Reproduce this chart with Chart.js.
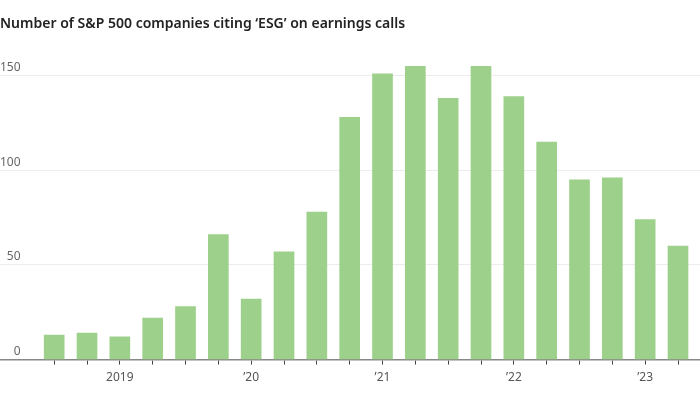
<!DOCTYPE html>
<html>
<head>
<meta charset="utf-8">
<script src="https://cdn.jsdelivr.net/npm/chart.js@4"></script>
<style>
  html, body { margin: 0; padding: 0; background: #fff; }
  #wrap { width: 700px; height: 394px; position: relative; }
</style>
</head>
<body>
<div id="wrap"><canvas id="esgChart" width="700" height="394"></canvas></div>
<script>
// quarterly counts, Q3 2018 .. Q2 2023
const quarters = ['Q3 2018', 'Q4 2018', 'Q1 2019', 'Q2 2019', 'Q3 2019', 'Q4 2019',
  'Q1 2020', 'Q2 2020', 'Q3 2020', 'Q4 2020', 'Q1 2021', 'Q2 2021', 'Q3 2021', 'Q4 2021',
  'Q1 2022', 'Q2 2022', 'Q3 2022', 'Q4 2022', 'Q1 2023', 'Q2 2023'];
const companies = [13, 14, 12, 22, 28, 66, 32, 57, 78, 128, 151, 155, 138, 155, 139, 115, 95, 96, 74, 60];
const xTickLabels = ['', '', '2019', '', '', '', '\u201920', '', '', '', '\u201921', '', '', '',
  '\u201922', '', '', '', '\u201923', ''];
const yTicks = [0, 50, 100, 150];

const fontFamily = '"Noto Sans", "Open Sans", sans-serif';

const ctx = document.getElementById('esgChart').getContext('2d');

new Chart(ctx, {
    type: 'bar',
    data: {
        labels: quarters,
        datasets: [{
            label: 'Companies citing ESG',
            data: companies.map((v, i) => ({ x: i + 1, y: v })),
            backgroundColor: '#9dd08a',
            barThickness: 20,
            borderWidth: 0
        }]
    },
    options: {
        responsive: false,
        animation: false,
        layout: { padding: { left: 0, right: 0, top: 0, bottom: 3 } },
        scales: {
            x: {
                type: 'linear',
                min: -0.65,
                max: 20.67,
                offset: false,
                afterBuildTicks: (scale) => {
                    scale.ticks = quarters.map((q, i) => ({ value: i + 1 }));
                },
                ticks: {
                    autoSkip: false,
                    maxRotation: 0,
                    color: '#555',
                    padding: 6,
                    font: { family: fontFamily, size: 12 },
                    callback: (value) => xTickLabels[value - 1] || ''
                },
                grid: {
                    offset: false,
                    drawOnChartArea: false,
                    drawTicks: true,
                    tickLength: 5,
                    color: '#444'
                },
                border: { color: '#888', width: 1.5 }
            },
            y: {
                min: 0,
                max: 160,
                afterBuildTicks: (scale) => {
                    scale.ticks = yTicks.map(v => ({ value: v }));
                },
                ticks: {
                    mirror: true,
                    crossAlign: 'far',
                    padding: 0,
                    labelOffset: -8,
                    color: '#666',
                    font: { family: fontFamily, size: 12 }
                },
                grid: {
                    drawTicks: false,
                    color: (c) => c.tick && c.tick.value === 0 ? 'rgba(0,0,0,0)' : '#ececec',
                    lineWidth: 1
                },
                border: { display: false }
            }
        },
        plugins: {
            legend: { display: false },
            tooltip: { enabled: false },
            title: {
                display: true,
                text: 'Number of S&P 500 companies citing \u2018ESG\u2019 on earnings calls',
                align: 'start',
                color: '#222',
                font: { family: fontFamily, size: 14, weight: '600' },
                padding: { top: 16, bottom: 24 }
            }
        }
    }
});
</script>
</body>
</html>
